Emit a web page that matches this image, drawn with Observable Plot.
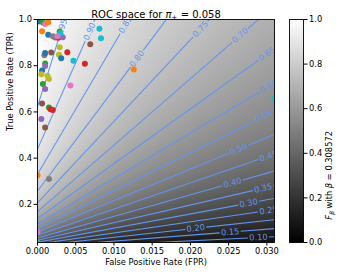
<!DOCTYPE html>
<html><head><meta charset="utf-8">
<script src="https://cdn.jsdelivr.net/npm/d3@7"></script>
<script src="https://cdn.jsdelivr.net/npm/@observablehq/plot@0.6"></script>
<style>
body{margin:0;background:#fff;}
#chart{position:relative;width:339px;height:273px;}
#chart svg{position:absolute;left:0;top:0;}
</style></head><body><div id="chart"></div>
<script>
const piPos = 0.058;
const beta = 0.308572;
const xDomain = [0, 0.031];
const yDomain = [0.035, 1.0];
const levels = [0.10,0.15,0.20,0.25,0.30,0.35,0.40,0.45,0.50,0.55,0.60,0.65,0.70,0.75,0.80,0.85,0.90,0.95];
const labelFPR = [0.0289,0.0252,0.0207,0.0302,0.0276,0.0295,0.0255,0.0302,0.0263,0.0296,0.0302,0.0300,0.0265,0.0213,0.0130,0.0115,0.0068,0.0032];
const xTicks = [0,0.005,0.010,0.015,0.020,0.025,0.030];
const yTicks = [0.2,0.4,0.6,0.8,1.0];
const cbTicks = [0,0.2,0.4,0.6,0.8,1.0];
const pointFPR = [0.0001,0.0007,0.0010,0.0014,0.0006,0.0014,0.0020,0.0023,0.0027,0.0033,0.0029,0.0030,0.0026,0.0029,0.0028,0.0031,0.0039,0.0018,0.0009,0.0010,0.0047,0.0062,0.0069,0.0081,0.0083,0.0126,0.0043,0.0010,0.0010,0.0006,0.0005,0.0013,0.0015,0.0007,0.0010,0.0006,0.0015,0.0017,0.0020,0.0005,0.0010,0.0000,0.0015,0.0000,0.0000,0.0310];
const pointTPR = [0.991,0.987,0.980,0.988,0.949,0.934,0.928,0.922,0.921,0.923,0.948,0.940,0.927,0.880,0.847,0.832,0.858,0.857,0.845,0.855,0.822,0.809,0.893,0.960,0.919,0.784,0.714,0.810,0.799,0.779,0.763,0.757,0.743,0.721,0.699,0.637,0.619,0.612,0.608,0.569,0.533,0.326,0.310,0.081,0.037,0.657];
const pointColor = ["blue","green","pink","orange","orange","blue","gray","gray","red","purple","green","cyan","pink","olive","olive","blue","red","brown","gray","blue","cyan","red","brown","cyan","cyan","orange","pink","green","purple","blue","olive","olive","olive","green","purple","brown","green","red","red","purple","brown","orange","gray","pink","cyan","cyan"];
const tab10 = {blue:"#1f77b4",orange:"#ff7f0e",green:"#2ca02c",red:"#d62728",purple:"#9467bd",brown:"#8c564b",pink:"#e377c2",gray:"#7f7f7f",olive:"#bcbd22",cyan:"#17becf"};

const W = 339, H = 273, mL = 37, mR = 65, mT = 19, mB = 31;
const b2 = beta * beta;
const F = (x, y) => (1 + b2) * piPos * y / (piPos * y + b2 * piPos + (1 - piPos) * x);
const kx = (W - mL - mR) / (xDomain[1] - xDomain[0]);
const ky = (H - mT - mB) / (yDomain[1] - yDomain[0]);
const gap = 10.5;
const lineColor = "#6495ED";
const lines = levels.map((c, i) => {
  const a = c * b2 / (1 + b2 - c);
  const s = c * (1 - piPos) / (piPos * (1 + b2 - c));
  const lx = labelFPR[i];
  const d = gap / Math.hypot(kx, s * ky);
  return {c, a, s, lx, ly: a + s * lx, d, rot: -Math.atan2(s * ky, kx) * 180 / Math.PI};
});
const segs = lines.flatMap(l => [{x1: 0, x2: l.lx - l.d}, {x1: l.lx + l.d, x2: xDomain[1] * 1.05}]
  .map(g => ({...g, y1: l.a + l.s * g.x1, y2: l.a + l.s * g.x2})));
const points = pointFPR.map((x, i) => ({x, y: pointTPR[i], color: tab10[pointColor[i]]}));

const font = {fontFamily: "DejaVu Sans, sans-serif", fontSize: "8.3px", color: "#000", background: "transparent", overflow: "visible"};
const grayScale = {type: "linear", domain: [0, 1], range: ["#000000", "#ffffff"]};

const main = Plot.plot({
  width: W, height: H, marginLeft: mL, marginRight: mR, marginTop: mT, marginBottom: mB,
  x: {domain: xDomain}, y: {domain: yDomain},
  color: grayScale,
  style: font,
  marks: [
    Plot.raster({x1: xDomain[0], x2: xDomain[1], y1: yDomain[0], y2: yDomain[1], fill: F}),
    Plot.link(segs, {x1: "x1", y1: "y1", x2: "x2", y2: "y2", stroke: lineColor, strokeWidth: 1.1, clip: true}),
    Plot.text(lines, {x: "lx", y: "ly", text: d => d.c.toFixed(2), rotate: "rot", fill: lineColor, fontSize: 8.3, clip: true}),
    ...points.map(p => Plot.dot([p], {x: "x", y: "y", r: 3, fill: p.color, stroke: null, clip: true})),
    Plot.frame({stroke: "#000", strokeWidth: 0.9}),
    Plot.axisX({ticks: xTicks, tickFormat: d3.format(".3f"), tickSize: 3.5, tickPadding: 2, label: null}),
    Plot.axisY({ticks: yTicks, tickFormat: d3.format(".1f"), tickSize: 3.5, tickPadding: 2, label: null}),
    Plot.text(["False Positive Rate (FPR)"], {text: d => d, frameAnchor: "bottom", dy: 22, fill: "#000"}),
    Plot.text(["True Positive Rate (TPR)"], {text: d => d, frameAnchor: "left", dx: -27, rotate: -90, fill: "#000"}),
    Plot.text(["ROC space for π+ = 0.058"], {text: d => d, frameAnchor: "top", dy: -9, fontSize: 10, fill: "#000"})
  ]
});

const cb = Plot.plot({
  width: W, height: H, marginLeft: 289, marginRight: 36, marginTop: mT, marginBottom: mB,
  x: {domain: [0, 1], axis: null}, y: {domain: [0, 1], axis: null},
  color: grayScale,
  style: font,
  marks: [
    Plot.raster({x1: 0, x2: 1, y1: 0, y2: 1, fill: (x, y) => y}),
    Plot.frame({stroke: "#000", strokeWidth: 0.9}),
    Plot.axisY({anchor: "right", ticks: cbTicks, tickFormat: d3.format(".1f"), tickSize: 3.5, tickPadding: 2, label: null}),
    Plot.text(["Fβ with β = 0.308572"], {text: d => d, frameAnchor: "right", dx: 26, rotate: -90, fill: "#000"})
  ]
});

const root = document.getElementById("chart");
root.appendChild(main);
root.appendChild(cb);

for (const t of document.querySelectorAll("text")) {
  if (t.textContent === "ROC space for π+ = 0.058") {
    t.innerHTML = 'ROC space for <tspan font-style="italic">π</tspan><tspan dy="2.5" font-size="7">+</tspan><tspan dy="-2.5"> = 0.058</tspan>';
  } else if (t.textContent === "Fβ with β = 0.308572") {
    t.innerHTML = '<tspan font-style="italic">F</tspan><tspan dy="2" font-size="6" font-style="italic">β</tspan><tspan dy="-2"> with </tspan><tspan font-style="italic">β</tspan> = 0.308572';
  }
}
</script></body></html>
